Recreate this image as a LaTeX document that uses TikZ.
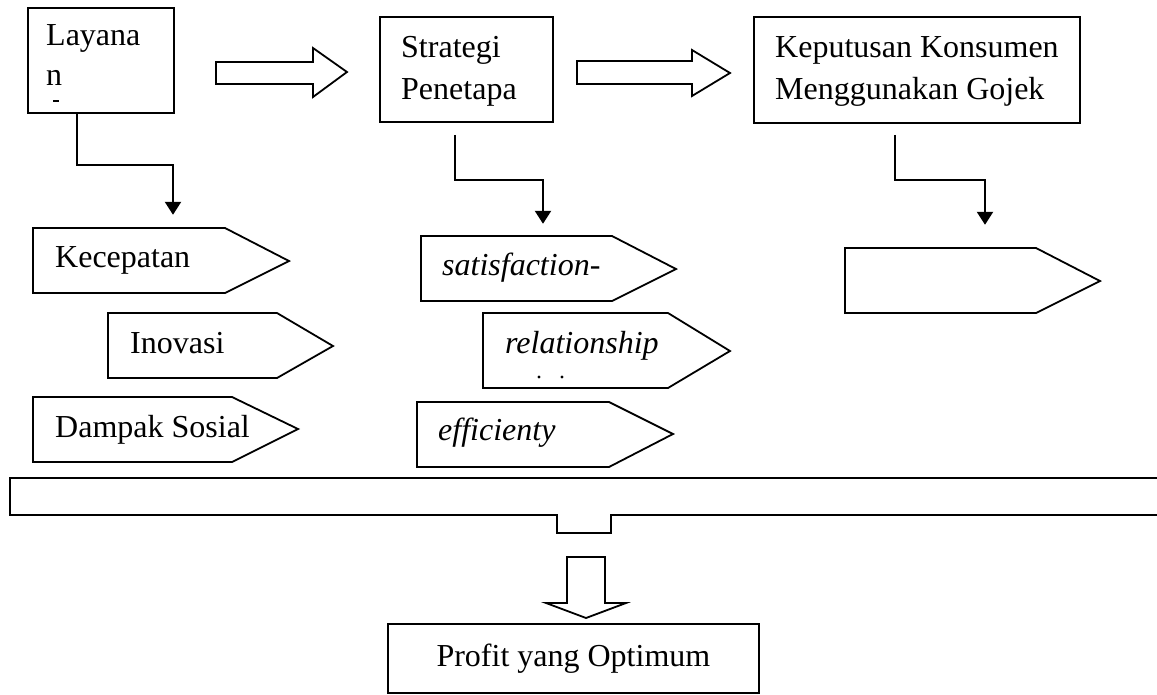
\documentclass[tikz,border=0pt]{standalone}
\usepackage{fontspec}
\setmainfont{Liberation Serif}
\usetikzlibrary{arrows.meta}
\usetikzlibrary{positioning}

\tikzset{
box/.style={draw, line width=1.8pt, inner sep=0pt, anchor=north west, font=\fontsize{32}{38}\selectfont},
lbl/.style={anchor=base west, inner sep=0pt, font=\fontsize{32}{38}\selectfont},
tagline/.style={line width=1.8pt},
elbow/.style={line width=2.2pt, -{Triangle[width=16pt,length=13pt]}},
hollow/.style={line width=1.8pt}
}

\begin{document}
\begin{tikzpicture}[x=1pt, y=-1pt]
\useasboundingbox (0,0) rectangle (1157,694);
\node[box, minimum width=146pt, minimum height=105pt] (lay) at (27,7) {};
\node[box, minimum width=173pt, minimum height=105pt] (str) at (379,16) {};
\node[box, minimum width=326pt, minimum height=106pt] (kep) at (753,16) {};
\node[lbl] (lay1) at (46,45) {Layana};
\node[lbl] (lay2) at (46,85) {n};
\draw[line width=1.8pt] (53,101) -- (59,101);
\node[lbl] (str1) at (401,57) {Strategi};
\node[lbl] (str2) at (401,99) {Penetapa};
\node[lbl] (kep1) at (775,57) {Keputusan Konsumen};
\node[lbl] (kep2) at (775,99) {Menggunakan Gojek};

\draw[hollow] (216,62) -- (313,62) -- (313,48) -- (347,72) -- (313,97) -- (313,84) -- (216,84) -- cycle;
\draw[hollow] (577,61) -- (692,61) -- (692,50) -- (730,73) -- (692,96) -- (692,84) -- (577,84) -- cycle;

\draw[elbow] (lay.south west) ++(50,0) |- ++(96,51) -- ++(0,50);
\draw[elbow] (str.south west) ++(76,12) |- ++(88,45) -- ++(0,44);
\draw[elbow] (kep.south west) ++(142,11) |- ++(90,45) -- ++(0,45);

\draw[tagline] (33,228) -- (225,228) -- (289,261) -- (225,293) -- (33,293) -- cycle;
\node[lbl] (kec) at (55,267) {Kecepatan};
\draw[tagline] (108,313) -- (277,313) -- (333,346) -- (277,378) -- (108,378) -- cycle;
\node[lbl] (ino) at (130,353) {Inovasi};
\draw[tagline] (33,397) -- (232,397) -- (298,429) -- (232,462) -- (33,462) -- cycle;
\node[lbl] (dam) at (55,437) {Dampak Sosial};

\draw[tagline] (421,236) -- (612,236) -- (676,269) -- (612,301) -- (421,301) -- cycle;
\node[lbl, font=\fontsize{32}{38}\selectfont\itshape] (sat) at (442,275) {satisfaction-};
\draw[tagline] (483,313) -- (668,313) -- (730,351) -- (668,388) -- (483,388) -- cycle;
\node[lbl, font=\fontsize{32}{38}\selectfont\itshape] (rel) at (505,353) {relationship};
\fill (539,377) circle (1.6pt) (562,377) circle (1.6pt);
\draw[tagline] (417,402) -- (609,402) -- (673,434) -- (609,467) -- (417,467) -- cycle;
\node[lbl, font=\fontsize{32}{38}\selectfont\itshape] (eff) at (438,440) {efficienty};

\draw[tagline] (845,248) -- (1036,248) -- (1100,281) -- (1036,313) -- (845,313) -- cycle;

\draw[line width=2pt] (1160,478) -- (10,478) -- (10,515) -- (557,515) -- (557,533) -- (611,533) -- (611,515) -- (1160,515);
\draw[hollow] (567,557) -- (605,557) -- (605,603) -- (626,603) -- (586,618) -- (546,603) -- (567,603) -- cycle;
\node[box, minimum width=371pt, minimum height=69pt] (pro) at (387,623) {Profit yang Optimum};
\end{tikzpicture}
\end{document}
